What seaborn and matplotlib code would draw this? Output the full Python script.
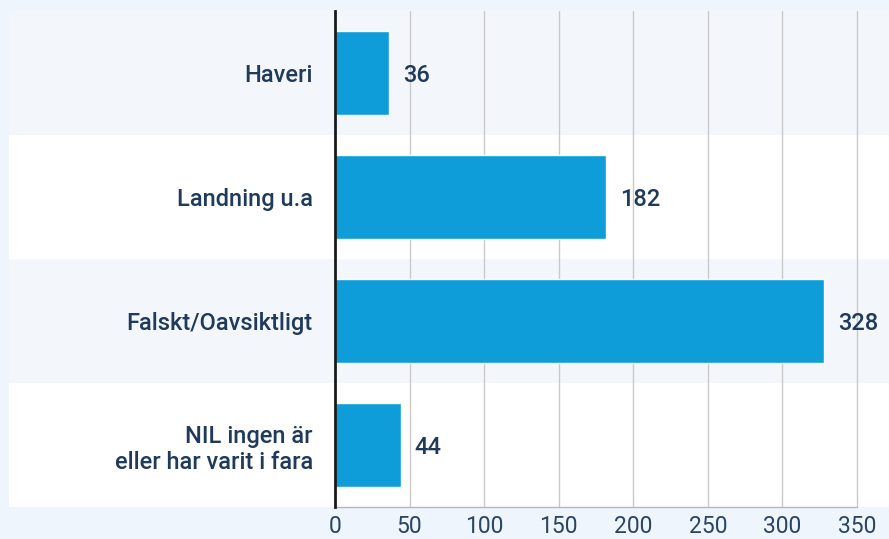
import matplotlib
matplotlib.use("Agg")
import matplotlib.pyplot as plt
import matplotlib.transforms as mtransforms
from matplotlib.patches import Rectangle
import seaborn as sns
import pandas as pd

categories = ["Haveri", "Landning u.a", "Falskt/Oavsiktligt", "NIL ingen är\neller har varit i fara"]
counts = [36, 182, 328, 44]
x_ticks = [0, 50, 100, 150, 200, 250, 300, 350]

bar_color = "#0e9dd9"
text_color = "#1f3a5c"
fig_bg = "#eef5fc"
band_light = "#f3f7fc"

sns.set_style("white")
plt.rcParams["font.family"] = ["Roboto", "DejaVu Sans"]

df = pd.DataFrame({"category": categories, "count": counts})

W, H = 889, 539
fig = plt.figure(figsize=(W / 100, H / 100), dpi=100, facecolor=fig_bg)
ax_left, ax_right, ax_top, ax_bottom = 335, 889, 11, 507
ax = fig.add_axes([ax_left / W, (H - ax_bottom) / H, (ax_right - ax_left) / W, (ax_bottom - ax_top) / H])
ax.set_facecolor("white")

px_per_unit = (857 - 335) / 350
ax.set_xlim(0, (ax_right - ax_left) / px_per_unit)

sns.barplot(data=df, x="count", y="category", color=bar_color, width=0.68,
            saturation=1, ax=ax, zorder=3)
ax.set_ylim(len(categories) - 0.5, -0.5)

# alternating row bands reaching out past the labels
trans = mtransforms.blended_transform_factory(ax.transAxes, ax.transData)
band_x0 = -(ax_left - 9) / (ax_right - ax_left)
for i in range(len(categories)):
    fc = band_light if i % 2 == 0 else "white"
    ax.add_patch(Rectangle((band_x0, i - 0.5), 1 - band_x0, 1, transform=trans,
                           facecolor=fc, edgecolor="none", clip_on=False, zorder=0))

# grid lines only at ticks
for t in x_ticks[1:]:
    ax.axvline(t, color="#c9c9c9", lw=1, zorder=1)

for i, v in enumerate(counts):
    ax.text(v + 14 / px_per_unit, i + 0.02, str(v), va="center", ha="left",
            fontsize=17, fontweight="medium", color=text_color, zorder=4)

ax.set_xticks(x_ticks)
ax.set_xlabel("")
ax.set_ylabel("")
ax.tick_params(axis="x", length=0, pad=6, labelsize=16.5, labelcolor="#2a4466")
ax.tick_params(axis="y", length=0, pad=16)
for lab in ax.get_yticklabels():
    lab.set_fontsize(17)
    lab.set_fontweight("medium")
    lab.set_color(text_color)
    lab.set_linespacing(1.2)

for s in ["top", "right"]:
    ax.spines[s].set_visible(False)
ax.spines["left"].set_color("#1a1a1a")
ax.spines["left"].set_linewidth(2)
ax.spines["left"].set_zorder(5)
ax.spines["bottom"].set_color("#b5b5b5")
ax.spines["bottom"].set_linewidth(1)
ax.spines["bottom"].set_bounds(0, 350)

fig.savefig("out.png", dpi=100, facecolor=fig_bg)
